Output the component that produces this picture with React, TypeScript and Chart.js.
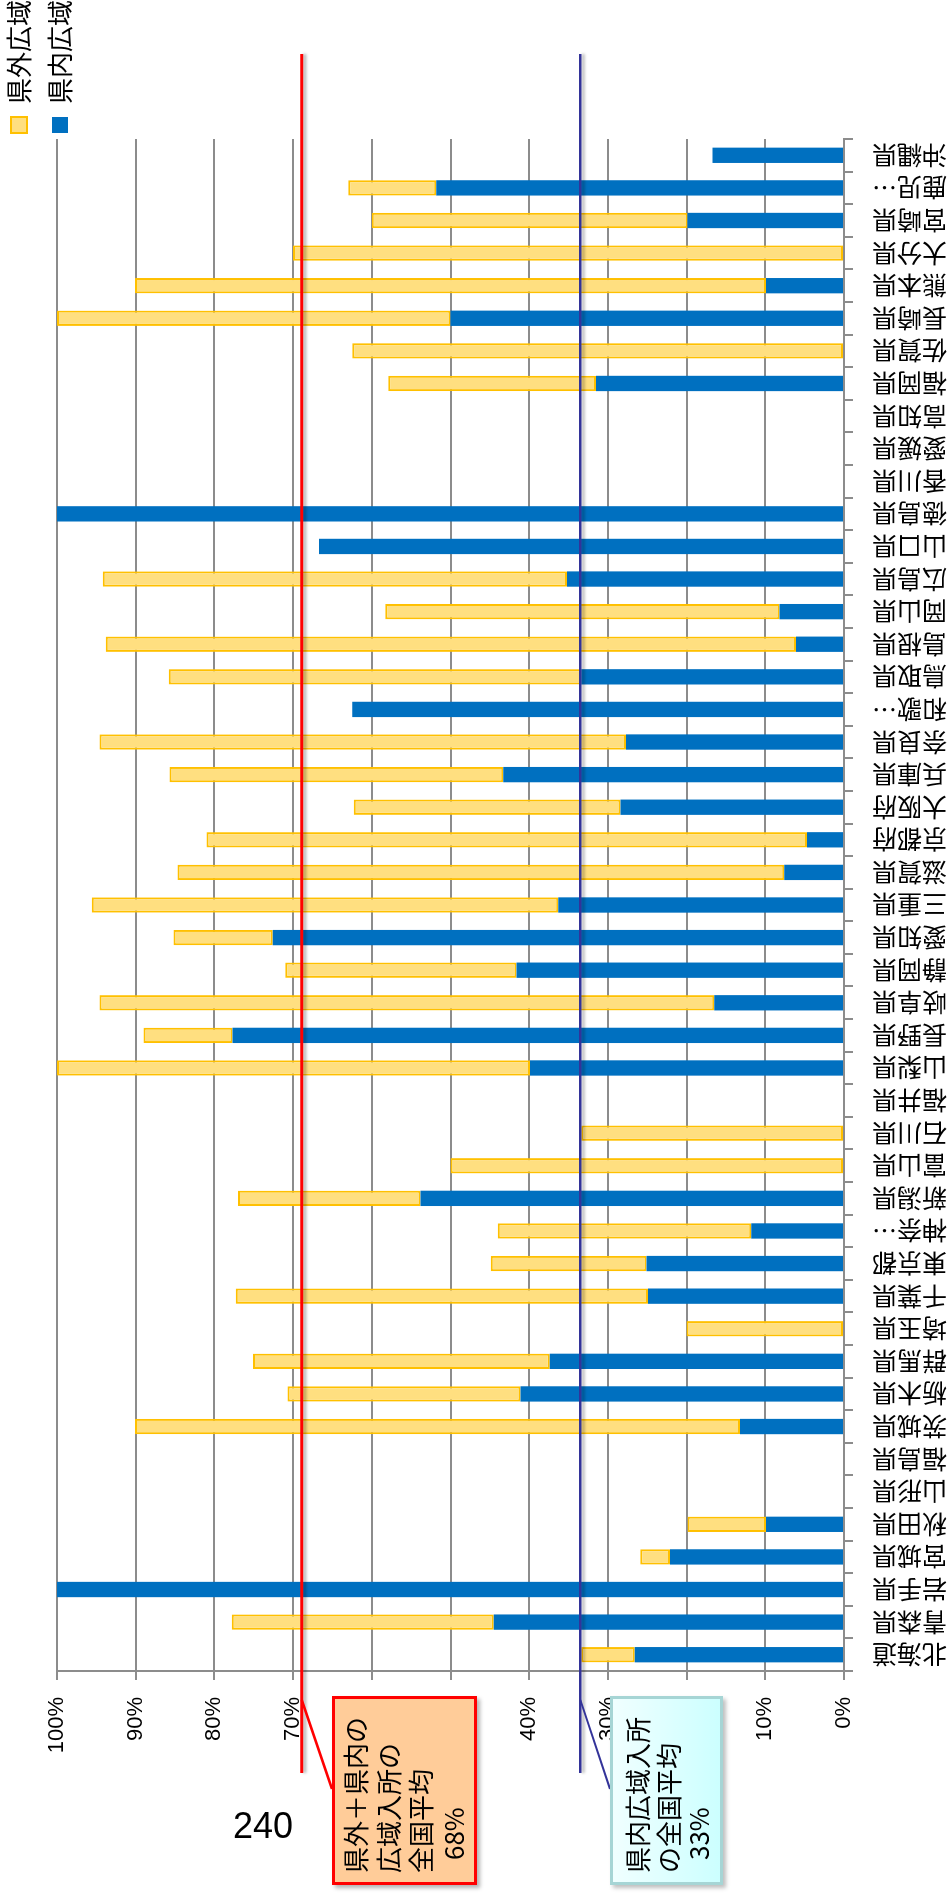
import React, { useEffect, useRef } from 'react';
import { Chart, registerables } from 'chart.js';

Chart.register(...registerables);

// ---- data ----
const prefectures = [
  '北海道', '青森県', '岩手県', '宮城県', '秋田県', '山形県', '福島県', '茨城県', '栃木県', '群馬県',
  '埼玉県', '千葉県', '東京都', '神奈…', '新潟県', '富山県', '石川県', '福井県', '山梨県', '長野県',
  '岐阜県', '静岡県', '愛知県', '三重県', '滋賀県', '京都府', '大阪府', '兵庫県', '奈良県', '和歌…',
  '鳥取県', '島根県', '岡山県', '広島県', '山口県', '徳島県', '香川県', '愛媛県', '高知県', '福岡県',
  '佐賀県', '長崎県', '熊本県', '大分県', '宮崎県', '鹿児…', '沖縄県',
];

// 県内広域 (%)
const inPrefPct = [
  26.6, 44.5, 100, 22.1, 9.9, 0, 0, 13.2, 41.1, 37.4,
  0, 24.9, 25.1, 11.8, 53.8, 0, 0, 0, 39.9, 77.7,
  16.5, 41.6, 72.6, 36.3, 7.6, 4.7, 28.4, 43.3, 27.7, 62.5,
  33.4, 6.1, 8.2, 35.2, 66.7, 100, 0, 0, 0, 31.5,
  0, 50.0, 9.9, 0, 19.9, 51.8, 16.7,
];

// 県外広域 (%)
const outPrefPct = [
  6.8, 33.3, 0, 3.8, 10.0, 0, 0, 76.9, 29.6, 37.7,
  20.0, 52.4, 19.8, 32.2, 23.2, 50.0, 33.4, 0, 60.1, 11.3,
  78.1, 29.4, 12.6, 59.3, 77.1, 76.3, 33.9, 42.4, 66.9, 0,
  52.4, 87.7, 50.1, 59.0, 0, 0, 0, 0, 0, 26.4,
  62.5, 50.0, 80.2, 70.0, 40.1, 11.2, 0,
];

const valueTickLabels = ['0%', '10%', '20%', '30%', '40%', '50%', '60%', '70%', '80%', '90%', '100%'];

const avgTotalPct = 68.9; // 県外＋県内の広域入所の全国平均
const avgInPct = 33.5;    // 県内広域入所の全国平均

const seriesNames = { inPref: '県内広域', outPref: '県外広域' };

const totalBoxLines = ['県外＋県内の', '広域入所の', '全国平均', '68%'];
const inBoxLines = ['県内広域入所', 'の全国平均', '33%'];
const pageNumber = '240';

// ---- layout constants (in the un-rotated, landscape frame) ----
const W = 1893;
const H = 950;
const CJK = '"Noto Sans CJK JP", "Noto Sans", sans-serif';
const LATIN = '"Liberation Sans", Arial, sans-serif';

const totalBox = { left: 8, top: 332, width: 189, height: 145 };
const inBox = { left: 8, top: 610, width: 189, height: 113 };

const avgLinesPlugin = {
  id: 'avgLines',
  afterDatasetsDraw(chart: any) {
    const { ctx, chartArea, scales } = chart;
    const y = scales.y;
    const items = [
      { v: avgTotalPct, color: '#FF0000', w: 3, box: totalBox },
      { v: avgInPct, color: '#333399', w: 2.5, box: inBox },
    ];
    ctx.save();
    for (const it of items) {
      const py = y.getPixelForValue(it.v);
      const x0 = chartArea.left - 102;
      const x1 = chartArea.right + 85;
      ctx.save();
      ctx.shadowColor = 'rgba(0,0,0,0.3)';
      ctx.shadowBlur = 3;
      ctx.shadowOffsetY = 3;
      ctx.strokeStyle = it.color;
      ctx.lineWidth = it.w;
      ctx.beginPath();
      ctx.moveTo(x0, py);
      ctx.lineTo(x1, py);
      ctx.stroke();
      ctx.restore();
      // pointer to callout box
      ctx.strokeStyle = it.color;
      ctx.lineWidth = it.w - 0.5;
      ctx.beginPath();
      ctx.moveTo(chartArea.left - 29, py);
      ctx.lineTo(it.box.left + 96, it.box.top);
      ctx.stroke();
    }
    ctx.restore();
  },
};

export default function App() {
  const canvasRef = useRef<HTMLCanvasElement | null>(null);

  useEffect(() => {
    if (!canvasRef.current) return;
    const defaultGen = (Chart as any).defaults.plugins.legend.labels.generateLabels;
    const chart = new Chart(canvasRef.current, {
      type: 'bar',
      data: {
        labels: prefectures,
        datasets: [
          {
            label: seriesNames.inPref,
            data: inPrefPct,
            backgroundColor: '#0070C0',
            borderWidth: 0,
            categoryPercentage: 1,
            barPercentage: 0.47,
          },
          {
            label: seriesNames.outPref,
            data: outPrefPct,
            backgroundColor: '#FFDF80',
            borderColor: '#FFC000',
            borderWidth: 2,
            borderSkipped: false,
            categoryPercentage: 1,
            barPercentage: 0.47,
          },
        ],
      },
      options: {
        responsive: false,
        animation: false,
        devicePixelRatio: 1,
        layout: { padding: 0 },
        plugins: {
          title: {
            display: true,
            text: '',
            padding: { top: 45, bottom: 0 },
            font: { size: 10 },
          },
          legend: {
            position: 'right',
            align: 'start',
            reverse: true,
            maxWidth: 139,
            labels: {
              boxWidth: 16,
              boxHeight: 16,
              padding: 6,
              color: '#000',
              font: { size: 26, family: CJK, lineHeight: 35 / 26 },
              generateLabels: (c: any) =>
                defaultGen(c).map((l: any) => ({ ...l, text: [l.text] })),
            },
          },
          tooltip: { enabled: false },
        },
        scales: {
          x: {
            stacked: true,
            grid: {
              offset: true,
              drawOnChartArea: false,
              drawTicks: true,
              tickLength: 9,
              color: '#8c8c8c',
              lineWidth: 2,
            },
            border: { color: '#8c8c8c', width: 2 },
            ticks: {
              minRotation: 90,
              maxRotation: 90,
              autoSkip: false,
              padding: 19,
              color: '#000',
              font: { size: 25, family: CJK },
            },
            afterFit: (s: any) => {
              s.height = 106;
            },
          },
          y: {
            stacked: true,
            min: 0,
            max: 100,
            ticks: {
              stepSize: 10,
              padding: 17,
              color: '#000',
              font: { size: 22, family: LATIN },
              callback: (_v: any, i: number) => valueTickLabels[i],
            },
            grid: { color: '#8c8c8c', lineWidth: 2, tickLength: 9 },
            border: { color: '#8c8c8c', width: 2 },
            afterFit: (s: any) => {
              s.width = 222;
            },
          },
        },
      } as any,
      plugins: [avgLinesPlugin],
    });
    return () => chart.destroy();
  }, []);

  const boxText: React.CSSProperties = {
    fontFamily: CJK,
    fontSize: 26,
    color: '#000',
    whiteSpace: 'nowrap',
  };

  return (
    <div
      style={{
        position: 'absolute',
        left: 0,
        top: 0,
        width: 950,
        height: 1893,
        overflow: 'hidden',
        background: '#fff',
      }}
    >
      <div
        style={{
          position: 'absolute',
          left: 0,
          top: 0,
          width: W,
          height: H,
          transformOrigin: '0 0',
          transform: `translate(0px, ${W}px) rotate(-90deg)`,
        }}
      >
        <canvas ref={canvasRef} width={W} height={H} style={{ display: 'block' }} />
        <div
          style={{
            position: 'absolute',
            left: totalBox.left,
            top: totalBox.top,
            width: totalBox.width,
            height: totalBox.height,
            boxSizing: 'border-box',
            border: '3px solid #FF0000',
            background: '#FFCC99',
            boxShadow: '-3px 3px 4px rgba(0,0,0,0.3)',
            padding: '4px 0 0 9px',
            ...boxText,
            lineHeight: '32.5px',
          }}
        >
          {totalBoxLines.map((t, i) => (
            <div key={i} style={{ paddingLeft: i === totalBoxLines.length - 1 ? 13 : 0 }}>{t}</div>
          ))}
        </div>
        <div
          style={{
            position: 'absolute',
            left: inBox.left,
            top: inBox.top,
            width: inBox.width,
            height: inBox.height,
            boxSizing: 'border-box',
            border: '3px solid #A6D5D5',
            background: 'linear-gradient(to bottom, #F0FFFF, #CCFFFF)',
            boxShadow: '-3px 3px 4px rgba(0,0,0,0.25)',
            padding: '9px 0 0 9px',
            ...boxText,
            lineHeight: '30.5px',
          }}
        >
          {inBoxLines.map((t, i) => (
            <div key={i} style={{ paddingLeft: i === inBoxLines.length - 1 ? 13 : 0 }}>{t}</div>
          ))}
        </div>
      </div>
      <div
        style={{
          position: 'absolute',
          left: 233,
          top: 1808,
          fontSize: 36,
          lineHeight: '36px',
          fontFamily: LATIN,
          color: '#000',
        }}
      >
        {pageNumber}
      </div>
    </div>
  );
}
